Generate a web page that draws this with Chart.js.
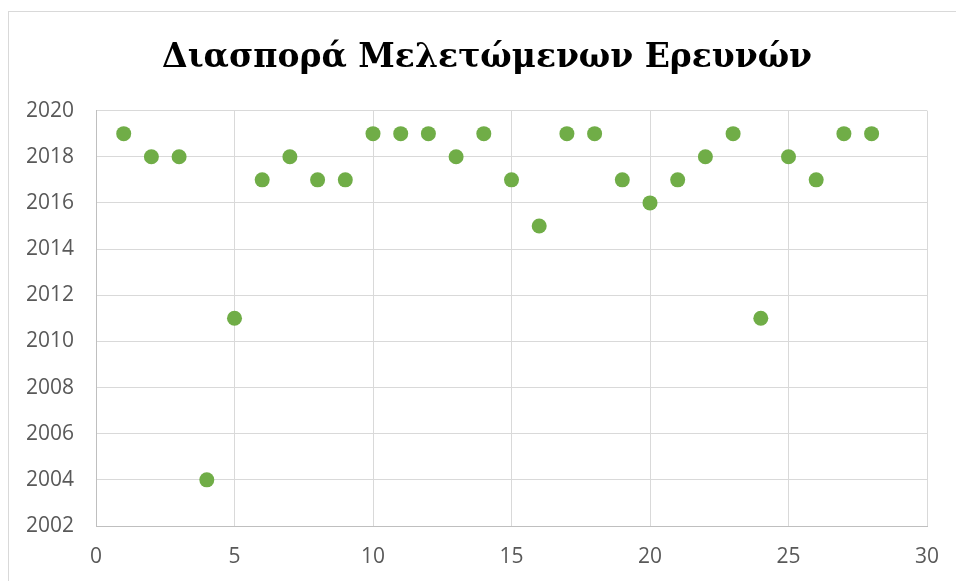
<!DOCTYPE html>
<html>
<head>
<meta charset="utf-8">
<script src="https://cdn.jsdelivr.net/npm/chart.js@4"></script>
<style>
  html, body { margin: 0; padding: 0; background: #fff; overflow: hidden; }
  #frame {
    position: absolute; left: 8px; top: 11px;
    width: 956px; height: 570px;
    border: 1px solid #d9d9d9;
  }
</style>
</head>
<body>
<div id="frame"><canvas id="chart" width="956" height="570"></canvas></div>
<script>
const studies = [1, 2, 3, 4, 5, 6, 7, 8, 9, 10, 11, 12, 13, 14, 15, 16, 17, 18, 19, 20, 21, 22, 23, 24, 25, 26, 27, 28];
const years = [2019, 2018, 2018, 2004, 2011, 2017, 2018, 2017, 2017, 2019, 2019, 2019, 2018, 2019, 2017, 2015, 2019, 2019, 2017, 2016, 2017, 2018, 2019, 2011, 2018, 2017, 2019, 2019];
const titleText = "Διασπορά Μελετώμενων Ερευνών";

const ctx = document.getElementById("chart").getContext("2d");

const tickFont = { family: "'Open Sans', sans-serif", size: 21 };

const myChart = new Chart(ctx, {
  type: "scatter",
  data: {
    datasets: [
      {
        label: "",
        data: studies.map((s, i) => ({ x: s, y: years[i] })),
        backgroundColor: "#70AD47",
        borderWidth: 0,
        pointRadius: 7.5,
        pointHoverRadius: 7.5,
      },
    ],
  },
  options: {
    responsive: false,
    animation: false,
    layout: { padding: 0 },
    plugins: {
      legend: { display: false },
      tooltip: { enabled: false },
      title: {
        display: true,
        text: titleText,
        color: "#000",
        font: { family: "'DejaVu Serif', serif", size: 33, weight: "bold" },
        padding: { top: 27, bottom: 32 },
      },
    },
    scales: {
      x: {
        type: "linear",
        min: 0,
        max: 30,
        ticks: { stepSize: 5, color: "#595959", font: tickFont, padding: 18 },
        grid: { color: "#d9d9d9", drawTicks: false },
        border: { color: "#bfbfbf", width: 1 },
        afterFit: (scale) => { scale.height = 56; },
      },
      y: {
        min: 2002,
        max: 2020,
        ticks: {
          stepSize: 2,
          color: "#595959",
          font: tickFont,
          padding: 22,
          callback: (v) => String(v),
        },
        grid: { color: "#d9d9d9", drawTicks: false },
        border: { color: "#bfbfbf", width: 1 },
        afterFit: (scale) => { scale.width = 87; },
      },
      // empty right-hand spacer so the title stays centred on the whole frame
      spacer: {
        axis: "y",
        position: "right",
        grid: { display: false, drawTicks: false },
        ticks: { display: false },
        border: { display: false },
        afterFit: (scale) => { scale.width = 38; },
      },
    },
  },
});
</script>
</body>
</html>
